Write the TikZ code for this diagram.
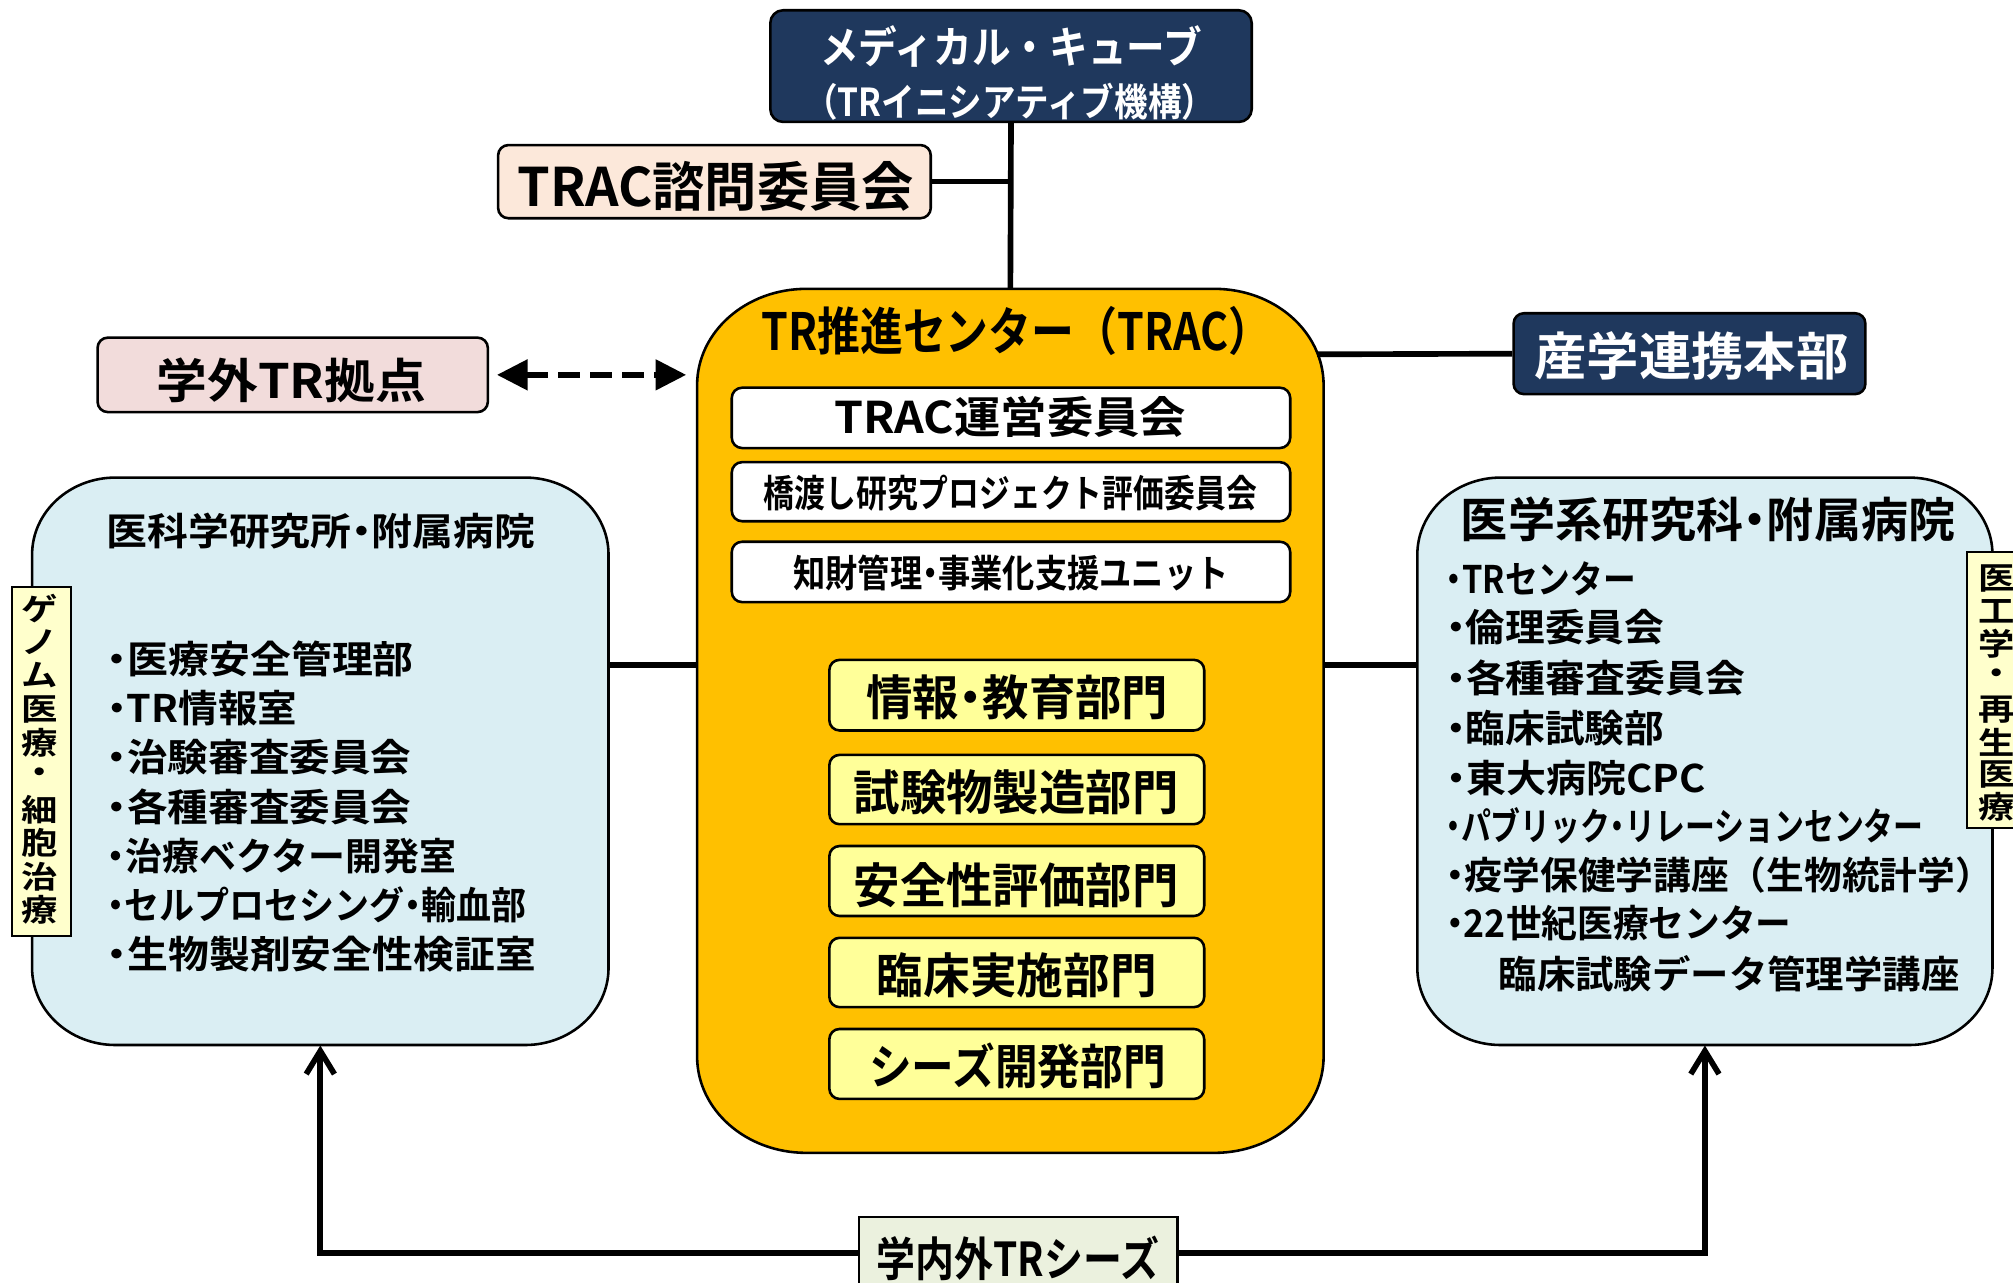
\documentclass[tikz,border=0pt]{standalone}
\usepackage{fontspec}
\setmainfont{Noto Sans CJK JP}[BoldFont={* Bold}]
\usepackage{graphicx}
\usetikzlibrary{arrows.meta,fit}
\newlength\pxu \setlength\pxu{0.5pt}
\newcommand\fw[2]{\resizebox{#1\pxu}{\height}{#2}}
\newcommand\fs[1]{\fontsize{#1pt}{#1pt}\selectfont\bfseries}
\newcommand\dt{\makebox[0.5em][c]{・}}
\definecolor{cnavy}{HTML}{1F385D}
\definecolor{corange}{HTML}{FFC000}
\definecolor{cyel}{HTML}{FFFF99}
\definecolor{clab}{HTML}{FFFFCC}
\definecolor{cblue}{HTML}{DAEEF3}
\definecolor{cpeach}{HTML}{FCE8DA}
\definecolor{cpink}{HTML}{F2DCDB}
\definecolor{cgreen}{HTML}{EBF1DE}
\newcommand\ebox[7]{%
 \path[#1] ({#2},{#3+#7}) -- ({#2},{#5-#7})
  arc[start angle=180,end angle=90,x radius=#6,y radius=#7] -- ({#4-#6},{#5})
  arc[start angle=90,end angle=0,x radius=#6,y radius=#7] -- ({#4},{#3+#7})
  arc[start angle=0,end angle=-90,x radius=#6,y radius=#7] -- ({#2+#6},{#3})
  arc[start angle=-90,end angle=-180,x radius=#6,y radius=#7] -- cycle;}
\tikzset{
 conn/.style={line width=2.2pt},
 bx/.style={draw, line width=1pt, rounded corners=4pt, inner sep=0pt},
 hole/.style={inner sep=0pt, draw=none},
 tx/.style={inner sep=0pt, anchor=center},
 lst/.style={inner sep=0pt, anchor=west},
 tip/.style={-{Straight Barb[length=9pt,width=11pt]}},
}
\begin{document}
\begin{tikzpicture}[x=0.5pt,y=-0.5pt]
\useasboundingbox (0,0) rectangle (1568,999);
\clip (0,0) rectangle (1568,999);
\fill[white] (0,0) rectangle (1568,999);

% big shapes
\ebox{draw,line width=1pt,fill=corange}{543}{225}{1031}{898}{85}{75}
\node[hole, fit={(543,225) (1031,898)}] (trac) {};
\ebox{draw,line width=1pt,fill=cblue}{25}{372}{474}{814}{65}{60}
\node[hole, fit={(25,372) (474,814)}] (lbox) {};
\ebox{draw,line width=1pt,fill=cblue}{1104}{372}{1552}{814}{65}{60}
\node[hole, fit={(1104,372) (1552,814)}] (rbox) {};

% top
\node[bx, rounded corners=5pt, fill=cnavy, fit={(600,8) (975,95)}] (med) {};
\node[tx, text=white] (medt1) at (787.5,36) {\fs{17}\fw{297}{メディカル・キューブ}};
\node[tx, text=white] (medt2) at (786.5,79) {\fs{15}\fw{320}{（TRイニシアティブ機構）}};

\node[bx, fill=cpeach, fit={(388,113) (725,170)}] (shimon) {};
\node[tx] (shimont) at (557.5,145) {\fs{20.7}\fw{309}{TRAC諮問委員会}};

\node[bx, fill=cpink, fit={(76,263) (380,321)}] (gakugai) {};
\node[tx] (gakugait) at (227,296.5) {\fs{18.5}\fw{210}{学外TR拠点}};

\node[bx, fill=cnavy, fit={(1179,244) (1453,307)}] (sangaku) {};
\node[tx, text=white] (sangakut) at (1317.5,277) {\fs{20}\fw{245}{産学連携本部}};

% TRAC contents
\node[tx] (tract) at (791.5,257.5) {\fs{20}\fw{397}{TR推進センター（TRAC）}};
\node[bx, fill=white, fit={(570,302) (1005,349)}] (unei) {};
\node[tx] (ueit) at (787,325) {\fs{17}\fw{274}{TRAC運営委員会}};
\node[bx, fill=white, fit={(570,360) (1005,406)}] (hashi) {};
\node[tx] (hashit) at (787,384) {\fs{14.8}\fw{384}{橋渡し研究プロジェクト評価委員会}};
\node[bx, fill=white, fit={(570,422) (1005,469)}] (chizai) {};
\node[tx] (chizait) at (787.5,446) {\fs{14.8}\fw{339}{知財管理\dt 事業化支援ユニット}};

\node[bx, fill=cyel, fit={(646,514) (938,569)}] (d1) {};
\node[tx] (d1t) at (792.5,543.5) {\fs{18.7}\fw{235}{情報\dt 教育部門}};
\node[bx, fill=cyel, fit={(646,588) (938,642)}] (d2) {};
\node[tx] (d2t) at (791.5,617.5) {\fs{18.7}\fw{253}{試験物製造部門}};
\node[bx, fill=cyel, fit={(646,659) (938,713.5)}] (d3) {};
\node[tx] (d3t) at (791.5,689.5) {\fs{18.7}\fw{253}{安全性評価部門}};
\node[bx, fill=cyel, fit={(646,730.5) (938,784.5)}] (d4) {};
\node[tx] (d4t) at (792,760) {\fs{18.7}\fw{218}{臨床実施部門}};
\node[bx, fill=cyel, fit={(646,801.5) (938,856)}] (d5) {};
\node[tx] (d5t) at (792.5,830.5) {\fs{18.7}\fw{231}{シーズ開発部門}};

% left box contents
\node[tx] (lt) at (250,414) {\fs{14.8}\fw{334}{医科学研究所\dt 附属病院}};
\node[lst] (l1) at (83,513)   {\fs{14.8}\fw{239}{\dt 医療安全管理部}};
\node[lst] (l2) at (83,551.4) {\fs{14.8}\fw{148}{\dt TR情報室}};
\node[lst] (l3) at (83,589.8) {\fs{14.8}\fw{237}{\dt 治験審査委員会}};
\node[lst] (l4) at (83,628.2) {\fs{14.8}\fw{237}{\dt 各種審査委員会}};
\node[lst] (l5) at (83,666.6) {\fs{14.8}\fw{272}{\dt 治療ベクター開発室}};
\node[lst] (l6) at (83,705)   {\fs{14.8}\fw{327}{\dt セルプロセシング\dt 輸血部}};
\node[lst] (l7) at (83,743.4) {\fs{14.8}\fw{334}{\dt 生物製剤安全性検証室}};

\node[draw, line width=0.8pt, fill=clab, inner sep=0pt, fit={(9,457) (55,729)}] (llab) {};
\foreach \c [count=\i] in {ゲ,ノ,ム,医,療,・,細,胞,治,療}
  \node[tx] (gl\i) at (31,{474+26.1*(\i-1)}) {\fs{12}\scalebox{1.18}[1]{\c}};

% right box contents
\node[tx] (rt) at (1330.5,404.5) {\fs{18.5}\fw{385}{医学系研究科\dt 附属病院}};
\node[lst] (r1) at (1126,451)   {\fs{14.8}\fw{148}{\dt TRセンター}};
\node[lst] (r2) at (1126,488.7) {\fs{14.8}\fw{170}{\dt 倫理委員会}};
\node[lst] (r3) at (1126,527.7) {\fs{14.8}\fw{233}{\dt 各種審査委員会}};
\node[lst] (r4) at (1126,567)   {\fs{14.8}\fw{170}{\dt 臨床試験部}};
\node[lst] (r5) at (1126,606)   {\fs{14.8}\fw{202}{\dt 東大病院CPC}};
\node[lst] (r6) at (1126,643)   {\fs{14.8}\fw{372}{\dt パブリック\dt リレーションセンター}};
\node[lst] (r7) at (1126,682)   {\fs{14.8}\fw{426}{\dt 疫学保健学講座（生物統計学）}};
\node[lst] (r8) at (1126,719)   {\fs{14.8}\fw{269}{\dt 22世紀医療センター}};
\node[lst] (r9) at (1167,758.5) {\fs{14.8}\fw{359}{臨床試験データ管理学講座}};

\node[draw, line width=0.8pt, fill=clab, inner sep=0pt, fit={(1532,430) (1595,645)}] (rlab) {};
\foreach \c [count=\i] in {医,工,学,・,再,生,医,療}
  \node[tx] (gr\i) at (1555,{451+25.4*(\i-1)}) {\fs{12}\scalebox{1.18}[1]{\c}};

% bottom
\node[draw, line width=1pt, fill=cgreen, inner sep=0pt, fit={(669,948) (917,1004)}] (seeds) {};
\node[tx] (seedst) at (793,980) {\fs{18.2}\fw{220}{学内外TRシーズ}};

% connectors
\coordinate (tracne) at (1026,276);
\coordinate (tracl) at (543,518);
\coordinate (tracr) at (1031,518);
\draw[conn] (med.south) -- (trac.north);
\draw[conn] (shimon.east) -- (shimon.east -| med.south);
\draw[conn] (sangaku.west) -- (tracne);
\draw[conn] (lbox.east |- tracl) -- (tracl);
\draw[conn] (rbox.west |- tracr) -- (tracr);
\draw[line width=2.5pt, dash pattern=on 8.5pt off 4pt,
  {Triangle[length=12pt,width=11.5pt]}-{Triangle[length=12pt,width=11.5pt]}]
  ([xshift=3pt]gakugai.east) -- ([xshift=-4pt]gakugai.east -| trac.west);
\draw[conn, tip] (seeds.west) -| (lbox.south);
\draw[conn, tip] (seeds.east) -| (rbox.south);
\end{tikzpicture}
\end{document}
